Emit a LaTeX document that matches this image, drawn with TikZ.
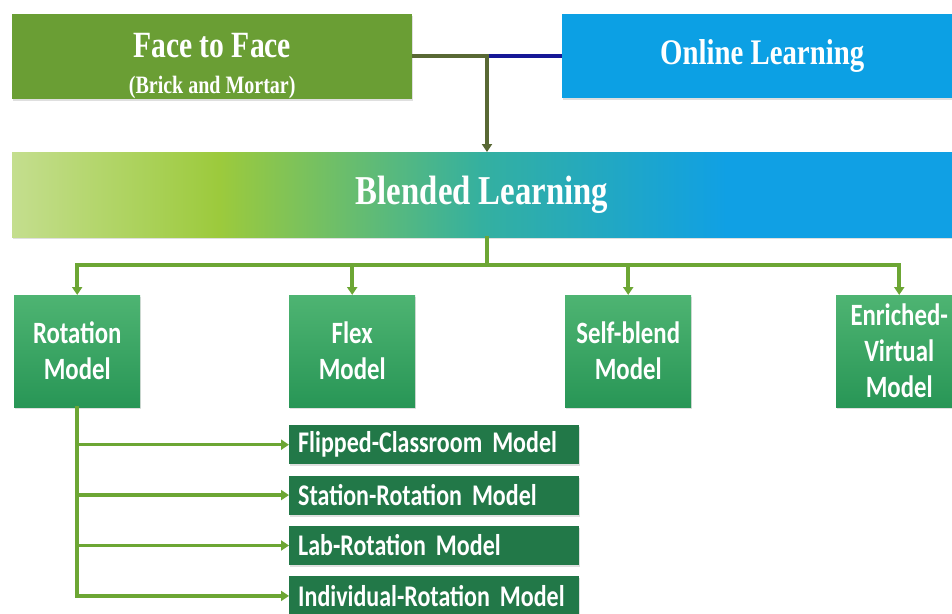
\documentclass[tikz,border=0pt]{standalone}
\usepackage{fontspec}
\newfontfamily\headfont[FakeStretch=0.8]{Liberation Serif}
\newfontfamily\modelfont[FakeStretch=0.8]{Carlito}
\newcommand\subfont{\modelfont\bfseries\fontsize{30}{30}\selectfont\fontdimen2\font=0.5pt\relax}
\usetikzlibrary{arrows.meta,positioning,shadows}

\definecolor{ftfgreen}{RGB}{106,158,52}
\definecolor{onlineblue}{RGB}{12,160,228}
\definecolor{blendA}{RGB}{196,222,142}
\definecolor{blendB}{RGB}{156,202,60}
\definecolor{blendC}{RGB}{52,176,160}
\definecolor{blendD}{RGB}{16,160,228}
\definecolor{modeltop}{RGB}{78,180,114}
\definecolor{modelbot}{RGB}{40,150,86}
\definecolor{subgreen}{RGB}{34,120,72}
\definecolor{linegreen}{RGB}{108,166,52}
\definecolor{lineolive}{RGB}{88,104,52}
\definecolor{lineblue}{RGB}{22,24,150}

\pgfdeclarehorizontalshading{blendshade}{100bp}{color(0bp)=(blendA); color(25bp)=(blendA); color(36bp)=(blendB); color(50bp)=(blendC); color(63bp)=(blendD); color(100bp)=(blendD)}

\begin{document}
\begin{tikzpicture}
          [ x=1pt, y=-1pt,
            box/.style={
              rectangle,
              inner sep=0pt,
              anchor=north west,
              text=white,
              drop shadow={shadow xshift=1pt, shadow yshift=-2pt, opacity=.25}},
            headbox/.style={
              box,
              font=\headfont\bfseries},
            modelbox/.style={
              box,
              minimum width=126,
              minimum height=112,
              top color=modeltop,
              bottom color=modelbot,
              align=center,
              font=\modelfont\bfseries\fontsize{31}{36}\selectfont},
            subbox/.style={
              box,
              inner xsep=9pt,
              text width=272,
              minimum height=39,
              fill=subgreen,
              align=left,
              font=\subfont},
            line/.style={
              draw,
              line width=3.5pt,
              line cap=rect,
              linegreen,
              >={Triangle[length=8pt,width=10pt]}},
          ]

          \useasboundingbox (0,0) rectangle (952,613);
          \fill[white] (0,0) rectangle (952,613);
          \clip (0,0) rectangle (952,613);

          % top row
          \node (face) [headbox, fill=ftfgreen, minimum width=400, minimum height=85, align=center,
            font=\headfont\bfseries\fontsize{37}{36}\selectfont] at (12,14)
            {\rule{0pt}{43pt}Face to Face\\{\fontsize{25}{26}\selectfont (Brick and Mortar)}};
          \node (online) [headbox, fill=onlineblue, minimum width=400, minimum height=84,
            font=\headfont\bfseries\fontsize{36}{36}\selectfont] at (562,14) {Online Learning};

          \node (blend) [headbox, shading=blendshade, minimum width=940, minimum height=85,
            font=\headfont\bfseries\fontsize{41}{40}\selectfont] at (12,152) {Blended Learning\hspace{28pt}};

          % models
          \node (rot) [modelbox] at (14,295) {Rotation\\Model};
          \node (flex) [modelbox] at (289,295) {Flex\\Model};
          \node (self) [modelbox] at (565,295) {Self-blend\\Model};
          \node (enr) [modelbox] at (836,295) {Enriched-\\Virtual\\Model};

          % rotation sub models
          \node (flip) [subbox] at (289,425) {Flipped-Classroom Model};
          \node (station) [subbox, below=11pt of flip] {Station-Rotation Model};
          \node (lab) [subbox, below=11pt of station] {Lab-Rotation Model};
          \node (ind) [subbox, below=11pt of lab] {Individual-Rotation Model};

          \coordinate (join) at (487,56);
          \coordinate (split) at (487,265);

          \draw[line, lineolive, line cap=butt] (face.east |- join) -- (join);
          \draw[line, lineblue, line cap=butt] (join) -- (online.west |- join);
          \draw[line, lineolive, ->] (join) -- (join |- blend.north);

          \draw[line] (split |- blend.south) -- (split);
          \draw[line] (rot.north |- split) -- (enr.north |- split);
          \foreach \m in {rot,flex,self,enr}
            \draw[line, ->] (\m.north |- split) -- (\m.north);

          \draw[line] (rot.south) -- (rot.south |- ind.west);
          \foreach \s in {flip,station,lab,ind}
            \draw[line, ->] (rot.south |- \s.west) -- (\s.west);

        \end{tikzpicture}
\end{document}
